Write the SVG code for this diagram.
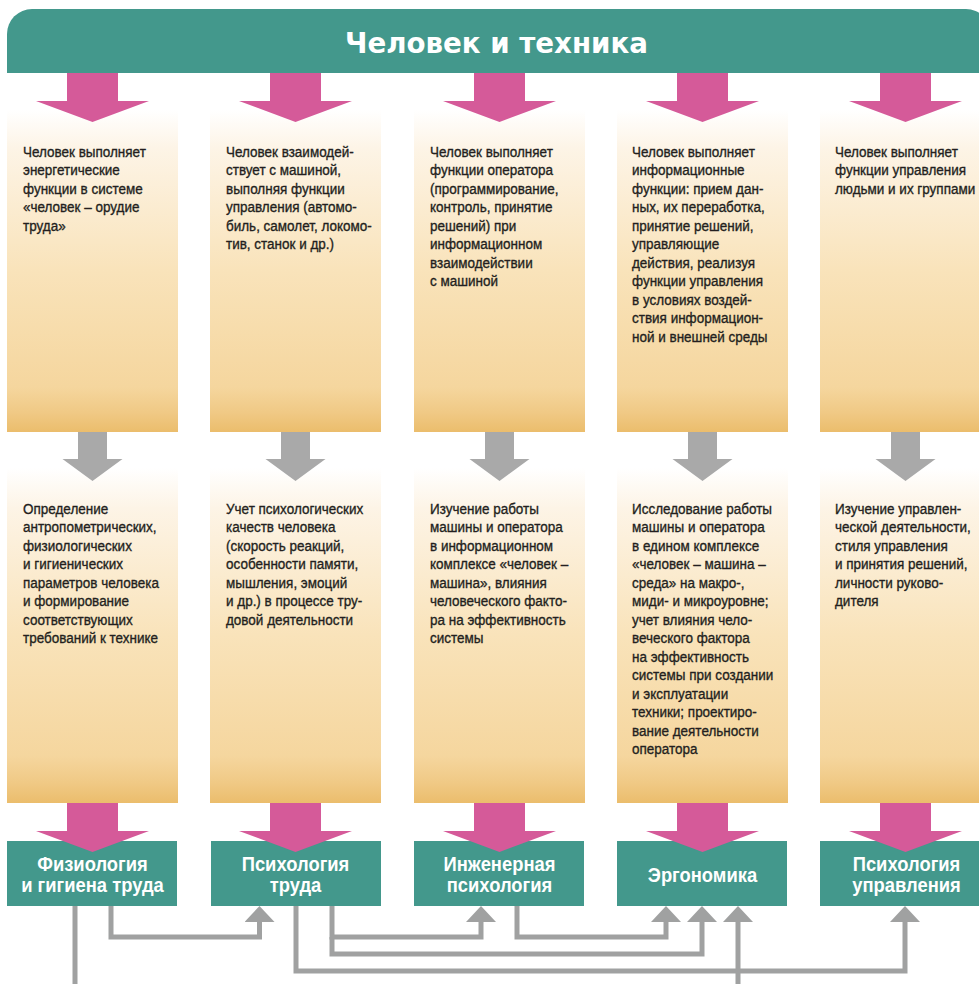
<svg xmlns="http://www.w3.org/2000/svg" width="979" height="984" viewBox="0 0 979 984">
<style>
.card{fill:url(#cardGrad)}
.teal{fill:#43988C}
.pink{fill:#D55A99}
.grayArrow{fill:#A9A9A9}
.body{font-family:"Liberation Sans",Arial,sans-serif;font-size:15.5px;fill:#231F20;stroke:#231F20;stroke-width:0.35px}
.lbl{font-family:"Liberation Sans",Arial,sans-serif;font-size:20px;font-weight:bold;fill:#FFFFFF;text-anchor:middle}
.title{font-family:"DejaVu Sans","Liberation Sans",sans-serif;font-size:29px;font-weight:bold;fill:#FFFFFF;text-anchor:middle}
.conn{fill:none;stroke:#A0A1A1;stroke-width:5;stroke-linejoin:miter;stroke-linecap:butt}
</style>
<defs>
<linearGradient id="cardGrad" x1="0" y1="0" x2="0" y2="1">
<stop offset="0" stop-color="#FFFFFF"/>
<stop offset="0.12" stop-color="#FDF4E6"/>
<stop offset="0.5" stop-color="#F9E3BA"/>
<stop offset="0.86" stop-color="#F5D69E"/>
<stop offset="0.94" stop-color="#F0C985"/>
<stop offset="1" stop-color="#EBBD6C"/>
</linearGradient>
<path id="pinkArrow" d="M-25.5,0 H25.5 V28 H56.5 L0,49 L-56.5,28 H-25.5 Z"/>
<path id="grayArrow" d="M-14.5,0 H14.5 V27 H30 L0,49 L-30,27 H-14.5 Z"/>
<marker id="head" markerUnits="userSpaceOnUse" viewBox="0 0 16 30" refX="0" refY="15" markerWidth="16" markerHeight="30" orient="auto">
<path d="M0,0 L16,15 L0,30 Z" fill="#A0A1A1"/>
</marker>
</defs>
<rect width="979" height="984" fill="#FFFFFF"/>

<g id="header">
<path class="teal" d="M7,34 A25,25 0 0 1 32,9 H966 A25,25 0 0 1 991,34 V73 H7 Z"/>
<text class="title" x="496.5" y="52.5" textLength="303" lengthAdjust="spacingAndGlyphs">Человек и техника</text>
</g>

<g id="col1-top">
<rect class="card" x="7" y="110" width="171" height="322"/>
<use href="#pinkArrow" class="pink" x="92.5" y="73"/>
<text class="body" transform="translate(23,0) scale(0.87,1)">
<tspan x="0" y="157">Человек выполняет</tspan>
<tspan x="0" y="175.5">энергетические</tspan>
<tspan x="0" y="194">функции в системе</tspan>
<tspan x="0" y="212.5">«человек – орудие</tspan>
<tspan x="0" y="231">труда»</tspan>
</text>
</g>

<g id="col2-top">
<rect class="card" x="210" y="110" width="171" height="322"/>
<use href="#pinkArrow" class="pink" x="295.5" y="73"/>
<text class="body" transform="translate(226,0) scale(0.87,1)">
<tspan x="0" y="157">Человек взаимодей-</tspan>
<tspan x="0" y="175.5">ствует с машиной,</tspan>
<tspan x="0" y="194">выполняя функции</tspan>
<tspan x="0" y="212.5">управления (автомо-</tspan>
<tspan x="0" y="231">биль, самолет, локомо-</tspan>
<tspan x="0" y="249.5">тив, станок и др.)</tspan>
</text>
</g>

<g id="col3-top">
<rect class="card" x="414" y="110" width="171" height="322"/>
<use href="#pinkArrow" class="pink" x="499.5" y="73"/>
<text class="body" transform="translate(430,0) scale(0.87,1)">
<tspan x="0" y="157">Человек выполняет</tspan>
<tspan x="0" y="175.5">функции оператора</tspan>
<tspan x="0" y="194">(программирование,</tspan>
<tspan x="0" y="212.5">контроль, принятие</tspan>
<tspan x="0" y="231">решений) при</tspan>
<tspan x="0" y="249.5">информационном</tspan>
<tspan x="0" y="268">взаимодействии</tspan>
<tspan x="0" y="286.5">с машиной</tspan>
</text>
</g>

<g id="col4-top">
<rect class="card" x="617" y="110" width="171" height="322"/>
<use href="#pinkArrow" class="pink" x="702.5" y="73"/>
<text class="body" transform="translate(632,0) scale(0.87,1)">
<tspan x="0" y="157">Человек выполняет</tspan>
<tspan x="0" y="175.5">информационные</tspan>
<tspan x="0" y="194">функции: прием дан-</tspan>
<tspan x="0" y="212.5">ных, их переработка,</tspan>
<tspan x="0" y="231">принятие решений,</tspan>
<tspan x="0" y="249.5">управляющие</tspan>
<tspan x="0" y="268">действия, реализуя</tspan>
<tspan x="0" y="286.5">функции управления</tspan>
<tspan x="0" y="305">в условиях воздей-</tspan>
<tspan x="0" y="323.5">ствия информацион-</tspan>
<tspan x="0" y="342">ной и внешней среды</tspan>
</text>
</g>

<g id="col5-top">
<rect class="card" x="820" y="110" width="171" height="322"/>
<use href="#pinkArrow" class="pink" x="905.5" y="73"/>
<text class="body" transform="translate(835,0) scale(0.87,1)">
<tspan x="0" y="157">Человек выполняет</tspan>
<tspan x="0" y="175.5">функции управления</tspan>
<tspan x="0" y="194">людьми и их группами</tspan>
</text>
</g>

<g id="col1-bottom">
<rect class="card" x="7" y="468" width="171" height="335"/>
<use href="#grayArrow" class="grayArrow" x="92.5" y="432"/>
<text class="body" transform="translate(23,0) scale(0.87,1)">
<tspan x="0" y="514">Определение</tspan>
<tspan x="0" y="532.5">антропометрических,</tspan>
<tspan x="0" y="551">физиологических</tspan>
<tspan x="0" y="569.5">и гигиенических</tspan>
<tspan x="0" y="588">параметров человека</tspan>
<tspan x="0" y="606.5">и формирование</tspan>
<tspan x="0" y="625">соответствующих</tspan>
<tspan x="0" y="643.5">требований к технике</tspan>
</text>
</g>

<g id="col2-bottom">
<rect class="card" x="210" y="468" width="171" height="335"/>
<use href="#grayArrow" class="grayArrow" x="295.5" y="432"/>
<text class="body" transform="translate(226,0) scale(0.87,1)">
<tspan x="0" y="514">Учет психологических</tspan>
<tspan x="0" y="532.5">качеств человека</tspan>
<tspan x="0" y="551">(скорость реакций,</tspan>
<tspan x="0" y="569.5">особенности памяти,</tspan>
<tspan x="0" y="588">мышления, эмоций</tspan>
<tspan x="0" y="606.5">и др.) в процессе тру-</tspan>
<tspan x="0" y="625">довой деятельности</tspan>
</text>
</g>

<g id="col3-bottom">
<rect class="card" x="414" y="468" width="171" height="335"/>
<use href="#grayArrow" class="grayArrow" x="499.5" y="432"/>
<text class="body" transform="translate(430,0) scale(0.87,1)">
<tspan x="0" y="514">Изучение работы</tspan>
<tspan x="0" y="532.5">машины и оператора</tspan>
<tspan x="0" y="551">в информационном</tspan>
<tspan x="0" y="569.5">комплексе «человек –</tspan>
<tspan x="0" y="588">машина», влияния</tspan>
<tspan x="0" y="606.5">человеческого факто-</tspan>
<tspan x="0" y="625">ра на эффективность</tspan>
<tspan x="0" y="643.5">системы</tspan>
</text>
</g>

<g id="col4-bottom">
<rect class="card" x="617" y="468" width="171" height="335"/>
<use href="#grayArrow" class="grayArrow" x="702.5" y="432"/>
<text class="body" transform="translate(632,0) scale(0.87,1)">
<tspan x="0" y="514">Исследование работы</tspan>
<tspan x="0" y="532.5">машины и оператора</tspan>
<tspan x="0" y="551">в едином комплексе</tspan>
<tspan x="0" y="569.5">«человек – машина –</tspan>
<tspan x="0" y="588">среда» на макро-,</tspan>
<tspan x="0" y="606.5">миди- и микроуровне;</tspan>
<tspan x="0" y="625">учет влияния чело-</tspan>
<tspan x="0" y="643.5">веческого фактора</tspan>
<tspan x="0" y="662">на эффективность</tspan>
<tspan x="0" y="680.5">системы при создании</tspan>
<tspan x="0" y="699">и эксплуатации</tspan>
<tspan x="0" y="717.5">техники; проектиро-</tspan>
<tspan x="0" y="736">вание деятельности</tspan>
<tspan x="0" y="754.5">оператора</tspan>
</text>
</g>

<g id="col5-bottom">
<rect class="card" x="820" y="468" width="171" height="335"/>
<use href="#grayArrow" class="grayArrow" x="905.5" y="432"/>
<text class="body" transform="translate(835,0) scale(0.87,1)">
<tspan x="0" y="514">Изучение управлен-</tspan>
<tspan x="0" y="532.5">ческой деятельности,</tspan>
<tspan x="0" y="551">стиля управления</tspan>
<tspan x="0" y="569.5">и принятия решений,</tspan>
<tspan x="0" y="588">личности руково-</tspan>
<tspan x="0" y="606.5">дителя</tspan>
</text>
</g>

<g id="box-fiziologiya">
<rect class="teal" x="7" y="841" width="170" height="65"/>
<use href="#pinkArrow" class="pink" x="92.5" y="803"/>
<text class="lbl" transform="translate(92.5,0) scale(0.92,1)"><tspan x="0" y="871">Физиология</tspan><tspan x="0" y="892">и гигиена труда</tspan></text>
</g>

<g id="box-psihologiya-truda">
<rect class="teal" x="211" y="841" width="170" height="65"/>
<use href="#pinkArrow" class="pink" x="295.5" y="803"/>
<text class="lbl" transform="translate(295.5,0) scale(0.92,1)"><tspan x="0" y="871">Психология</tspan><tspan x="0" y="892">труда</tspan></text>
</g>

<g id="box-inzhenernaya">
<rect class="teal" x="414" y="841" width="170" height="65"/>
<use href="#pinkArrow" class="pink" x="499.5" y="803"/>
<text class="lbl" transform="translate(499.5,0) scale(0.92,1)"><tspan x="0" y="871">Инженерная</tspan><tspan x="0" y="892">психология</tspan></text>
</g>

<g id="box-ergonomika">
<rect class="teal" x="617" y="841" width="170" height="65"/>
<use href="#pinkArrow" class="pink" x="702.5" y="803"/>
<text class="lbl" transform="translate(702.5,0) scale(0.92,1)"><tspan x="0" y="882">Эргономика</tspan></text>
</g>

<g id="box-psihologiya-upravleniya">
<rect class="teal" x="820" y="841" width="172" height="65"/>
<use href="#pinkArrow" class="pink" x="905.5" y="803"/>
<text class="lbl" transform="translate(906.5,0) scale(0.92,1)"><tspan x="0" y="871">Психология</tspan><tspan x="0" y="892">управления</tspan></text>
</g>

<g id="connectors">
<path class="conn" d="M75,906 V1000 H738 V922" marker-end="url(#head)"/>
<path class="conn" d="M111,906 V937 H259.5 V922" marker-end="url(#head)"/>
<path class="conn" d="M332,906 V937 H481 V922" marker-end="url(#head)"/>
<path class="conn" d="M332,937 V954 H702 V922" marker-end="url(#head)"/>
<path class="conn" d="M296,906 V971 H905 V922" marker-end="url(#head)"/>
<path class="conn" d="M517,906 V937 H666 V922" marker-end="url(#head)"/>
</g>
</svg>
